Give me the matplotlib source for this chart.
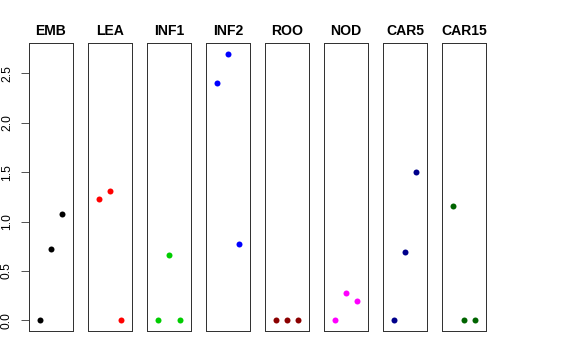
import numpy as np
import matplotlib
matplotlib.use('Agg')
import matplotlib.pyplot as plt

plt.rcParams['font.family'] = ['Liberation Sans', 'DejaVu Sans']

# panel names, colours and the three values per panel
groups = ['EMB', 'LEA', 'INF1', 'INF2', 'ROO', 'NOD', 'CAR5', 'CAR15']
colors = ['black', 'red', '#00CD00', 'blue', '#8B0000', 'magenta', '#00008B', '#006400']
emb = [0.0, 0.72, 1.08]
lea = [1.23, 1.31, 0.0]
inf1 = [0.0, 0.66, 0.0]
inf2 = [2.40, 2.70, 0.77]
roo = [0.0, 0.0, 0.0]
nod = [0.0, 0.28, 0.20]
car5 = [0.0, 0.69, 1.50]
car15 = [1.16, 0.0, 0.0]
values = [emb, lea, inf1, inf2, roo, nod, car5, car15]
xpos = [1, 2, 3]
yticks = [0.0, 0.5, 1.0, 1.5, 2.0, 2.5]

W, H = 576.0, 360.0
fig = plt.figure(figsize=(8, 5), dpi=72)

ymax = 2.70
pad = 0.04 * ymax
for i in range(len(groups)):
	left = 29 + 59 * i
	ax = fig.add_axes([left / W, (H - 331) / H, 44 / W, 288 / H])
	ax.plot(xpos, values[i], 'o', color=colors[i], markersize=6, markeredgewidth=0)
	ax.set_xlim(0, 4)
	ax.set_ylim(-pad, ymax + pad)
	ax.set_xticks([])
	ax.set_title(groups[i], fontsize=14, fontweight='bold', pad=8)
	for sp in ax.spines.values():
		sp.set_linewidth(1.0)
		sp.set_color('#333333')
	if i == 0:
		ax.set_yticks(yticks)
		ax.set_yticklabels(['%.1f' % v for v in yticks], rotation=90, va='center', fontsize=12)
		ax.tick_params(axis='y', length=8, width=1, pad=8, color='#555555')
	else:
		ax.set_yticks([])

fig.savefig('out.png', dpi=72)
